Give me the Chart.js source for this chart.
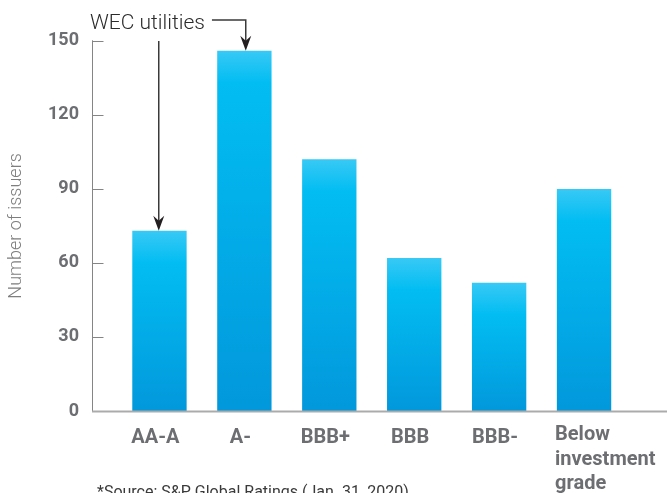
<!DOCTYPE html>
<html>
<head>
<meta charset="utf-8">
<title>Number of issuers by rating</title>
<script src="https://cdn.jsdelivr.net/npm/chart.js@4.4.1/dist/chart.umd.min.js"></script>
<style>
  html, body { margin: 0; padding: 0; background: #fff; }
  canvas { display: block; }
</style>
</head>
<body>
<canvas id="ratings" width="667" height="493"></canvas>
<script>
// Rating buckets and issuer counts
const ratingLabels = ['AA-A', 'A-', 'BBB+', 'BBB', 'BBB-', ['Below', 'investment', 'grade']];
const issuerCounts = [73, 146, 102, 62, 52, 90];
const yTicks = [0, 30, 60, 90, 120, 150];

// WEC utilities sit in these buckets
const wecBuckets = [0, 1];
const calloutText = 'WEC utilities';
const sourceNote = '*Source: S&P Global Ratings (Jan. 31, 2020)';

const FONT = 'Roboto, "Liberation Sans", sans-serif';

// vertical fill for each bar: bright lip at the top, deeper blue at the base
function barFill(context) {
    const chart = context.chart;
    if (!chart.chartArea) return '#00bdf2';
    const y = chart.scales.y;
    const top = y.getPixelForValue(context.raw);
    const base = y.getPixelForValue(0);
    const h = Math.max(base - top, 1);
    const g = chart.ctx.createLinearGradient(0, top, 0, base);
    g.addColorStop(0, '#38c9f5');
    g.addColorStop(Math.min(0.35, 32 / h), '#02bdf2');
    g.addColorStop(1, '#0298db');
    return g;
}

function arrowHead(ctx, x, tipY) {
    ctx.beginPath();
    ctx.moveTo(x, tipY);
    ctx.lineTo(x - 5.5, tipY - 15);
    ctx.lineTo(x, tipY - 10);
    ctx.lineTo(x + 5.5, tipY - 15);
    ctx.closePath();
    ctx.fill();
}

// axis lines, inward tick marks, category labels, callout and source
const decorations = {
    id: 'decorations',
    afterDraw(chart) {
        const ctx = chart.ctx;
        const { x: xs, y: ys } = chart.scales;
        const axisX = 92.5;
        const baseY = ys.getPixelForValue(0);
        const topY = ys.getPixelForValue(yTicks[yTicks.length - 1]);

        ctx.save();
        // y axis + ticks
        ctx.strokeStyle = '#858585';
        ctx.lineWidth = 1;
        ctx.beginPath();
        ctx.moveTo(axisX, topY - 0.5);
        ctx.lineTo(axisX, baseY);
        yTicks.forEach(v => {
            if (v === 0) return;
            const py = Math.round(ys.getPixelForValue(v)) + 0.5;
            ctx.moveTo(axisX, py);
            ctx.lineTo(axisX + 11, py);
        });
        ctx.stroke();

        // x axis
        ctx.strokeStyle = '#ababab';
        ctx.lineWidth = 2;
        ctx.beginPath();
        ctx.moveTo(axisX - 0.5, baseY + 0.5);
        ctx.lineTo(chart.width, baseY + 0.5);
        ctx.stroke();

        // category labels (single-line ones sit a touch left of the bar centre)
        ctx.fillStyle = '#6d6e71';
        ctx.font = '700 20px ' + FONT;
        ctx.textBaseline = 'alphabetic';
        ratingLabels.forEach((lab, i) => {
            const cx = xs.getPixelForValue(i);
            if (Array.isArray(lab)) {
                ctx.textAlign = 'left';
                lab.forEach((line, j) => ctx.fillText(line, cx - 29, 440 + j * 24.5));
            } else {
                ctx.textAlign = 'center';
                ctx.fillText(lab, cx - 4, 443);
            }
        });

        // callout
        const bars = chart.getDatasetMeta(0).data;
        ctx.fillStyle = '#2b2b2b';
        ctx.font = '300 21px ' + FONT;
        ctx.textAlign = 'left';
        ctx.fillText(calloutText, 90, 29);
        const textEnd = 90 + ctx.measureText(calloutText).width;

        ctx.strokeStyle = '#3a3a3a';
        ctx.fillStyle = '#231f20';
        ctx.lineWidth = 1.5;
        const first = bars[wecBuckets[0]];
        const second = bars[wecBuckets[1]];
        const ax = Math.round(first.x) - 0.25;
        const bx = Math.round(second.x) + 1.75;
        ctx.beginPath();
        ctx.moveTo(ax, 41);
        ctx.lineTo(ax, first.y - 6);
        ctx.moveTo(textEnd + 7, 20);
        ctx.lineTo(bx, 20);
        ctx.lineTo(bx, second.y - 6);
        ctx.stroke();
        arrowHead(ctx, ax, first.y);
        arrowHead(ctx, bx, second.y);

        // source note
        ctx.fillStyle = '#3a3a3a';
        ctx.font = '400 16px ' + FONT;
        ctx.fillText(sourceNote, 97, 497);
        ctx.restore();
    }
};

new Chart(document.getElementById('ratings'), {
    type: 'bar',
    data: {
        labels: ratingLabels,
        datasets: [{
            label: 'Number of issuers',
            data: issuerCounts,
            backgroundColor: barFill,
            borderWidth: 0,
            barPercentage: 0.64,
            categoryPercentage: 1
        }]
    },
    options: {
        responsive: false,
        animation: false,
        layout: { padding: { top: 37, right: 40.5, bottom: 0, left: 0 } },
        scales: {
            x: {
                grid: { display: false },
                border: { display: false },
                ticks: { display: false },
                afterFit: s => { s.height = 82; }
            },
            y: {
                min: 0,
                max: 150,
                grid: { display: false },
                border: { display: false },
                ticks: {
                    stepSize: 30,
                    padding: 30,
                    color: '#6d6e71',
                    font: { family: FONT, size: 18, weight: '700' }
                },
                title: {
                    display: true,
                    text: 'Number of issuers',
                    color: '#7e7e7e',
                    padding: { top: 6, bottom: 0 },
                    font: { family: FONT, size: 18, weight: '300' }
                },
                afterFit: s => { s.width = 117; }
            }
        },
        plugins: {
            legend: { display: false },
            tooltip: { enabled: false }
        }
    },
    plugins: [decorations]
});
</script>
</body>
</html>
